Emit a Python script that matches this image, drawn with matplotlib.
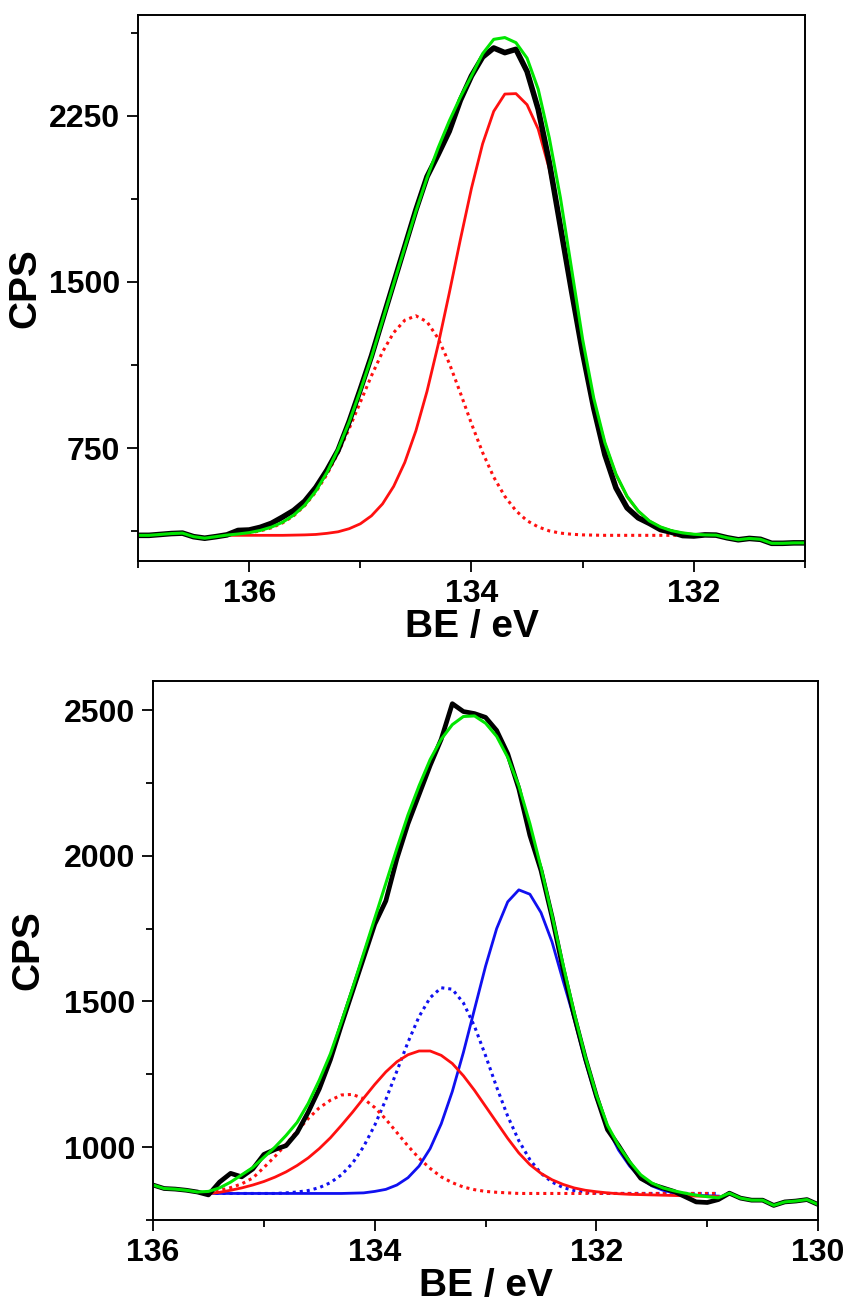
import numpy as np
import matplotlib
matplotlib.use("Agg")
import matplotlib.pyplot as plt
from matplotlib.ticker import MultipleLocator

plt.rcParams['font.family'] = ['Liberation Sans', 'DejaVu Sans']
plt.rcParams['font.weight'] = 'bold'

# ---- top panel (BE 137 -> 131) ----
be_top = [137.0, 136.9, 136.8, 136.7, 136.6, 136.5, 136.4, 136.3, 136.2, 136.1,
          136.0, 135.9, 135.8, 135.7, 135.6, 135.5, 135.4, 135.3, 135.2, 135.1,
          135.0, 134.9, 134.8, 134.7, 134.6, 134.5, 134.4, 134.3, 134.2, 134.1,
          134.0, 133.9, 133.8, 133.7, 133.6, 133.5, 133.4, 133.3, 133.2, 133.1,
          133.0, 132.9, 132.8, 132.7, 132.6, 132.5, 132.4, 132.3, 132.2, 132.1,
          132.0, 131.9, 131.8, 131.7, 131.6, 131.5, 131.4, 131.3, 131.2, 131.1,
          131.0]
data_top = [356, 356, 360, 364, 366, 350, 343, 350, 358, 378,
            380, 392, 410, 438, 468, 510, 572, 650, 740, 870,
            1015, 1165, 1330, 1495, 1660, 1825, 1975, 2075, 2180, 2320,
            2430, 2515, 2556, 2535, 2550, 2450, 2280, 2040, 1750, 1460,
            1180, 930, 720, 570, 480, 435, 410, 382, 370, 355,
            353, 358, 357, 345, 336, 342, 338, 320, 320, 322,
            322]
env_top = [356, 356, 360, 364, 366, 350, 343, 350, 357, 362,
           368, 378, 393, 415, 447, 492, 556, 640, 745, 868,
           1009, 1160, 1326, 1492, 1656, 1819, 1970, 2105, 2226, 2334,
           2430, 2530, 2595, 2603, 2580, 2510, 2370, 2150, 1880, 1560,
           1240, 975, 775, 632, 532, 466, 421, 394, 377, 367,
           361, 358, 357, 345, 336, 342, 338, 320, 320, 322,
           322]
# fitted components, BE 136.2 -> 131.9
be_comp_top = [136.2, 136.1, 136.0, 135.9, 135.8, 135.7, 135.6, 135.5, 135.4, 135.3,
               135.2, 135.1, 135.0, 134.9, 134.8, 134.7, 134.6, 134.5, 134.4, 134.3,
               134.2, 134.1, 134.0, 133.9, 133.8, 133.7, 133.6, 133.5, 133.4, 133.3,
               133.2, 133.1, 133.0, 132.9, 132.8, 132.7, 132.6, 132.5, 132.4, 132.3,
               132.2, 132.1, 132.0, 131.9]
red_top = [356, 356, 356, 356, 356, 356, 357, 358, 360, 365,
           372, 386, 408, 444, 498, 577, 685, 828, 1006, 1216,
           1449, 1691, 1923, 2123, 2270, 2348, 2350, 2300, 2190, 2010,
           1760, 1480, 1200, 960, 770, 630, 530, 465, 420, 393,
           376, 366, 360, 357]
red_dot_top = [359, 362, 367, 376, 390, 412, 444, 490, 552, 631,
               728, 838, 957, 1076, 1184, 1271, 1327, 1347, 1320, 1245,
               1133, 999, 860, 730, 619, 532, 467, 422, 394, 376,
               366, 361, 358, 357, 356, 356, 356, 356, 356, 356,
               356, 356, 356, 356]

# ---- bottom panel (BE 136 -> 130) ----
be_bot = [136.0, 135.9, 135.8, 135.7, 135.6, 135.5, 135.4, 135.3, 135.2, 135.1,
          135.0, 134.9, 134.8, 134.7, 134.6, 134.5, 134.4, 134.3, 134.2, 134.1,
          134.0, 133.9, 133.8, 133.7, 133.6, 133.5, 133.4, 133.3, 133.2, 133.1,
          133.0, 132.9, 132.8, 132.7, 132.6, 132.5, 132.4, 132.3, 132.2, 132.1,
          132.0, 131.9, 131.8, 131.7, 131.6, 131.5, 131.4, 131.3, 131.2, 131.1,
          131.0, 130.9, 130.8, 130.7, 130.6, 130.5, 130.4, 130.3, 130.2, 130.1,
          130.0]
data_bot = [870, 858, 856, 852, 846, 836, 880, 910, 898, 925,
            975, 992, 1005, 1050, 1120, 1200, 1300, 1420, 1535, 1650,
            1765, 1845, 1990, 2110, 2210, 2310, 2400, 2522, 2495, 2488,
            2475, 2430, 2350, 2230, 2070, 1950, 1790, 1610, 1450, 1305,
            1175, 1060, 1005, 945, 893, 872, 860, 848, 830, 812,
            810, 820, 842, 825, 818, 818, 800, 812, 815, 820,
            803]
env_bot = [870, 858, 856, 852, 846, 848, 860, 880, 905, 930,
           965, 1000, 1040, 1085, 1150, 1230, 1320, 1430, 1545, 1665,
           1785, 1905, 2025, 2140, 2240, 2330, 2400, 2450, 2478, 2480,
           2455, 2410, 2338, 2240, 2110, 1960, 1795, 1625, 1460, 1310,
           1180, 1075, 1005, 950, 905, 877, 860, 850, 842, 835,
           830, 826, 842, 825, 818, 818, 800, 812, 815, 820,
           803]
be_comp_bot = [135.5, 135.4, 135.3, 135.2, 135.1, 135.0, 134.9, 134.8, 134.7, 134.6,
               134.5, 134.4, 134.3, 134.2, 134.1, 134.0, 133.9, 133.8, 133.7, 133.6,
               133.5, 133.4, 133.3, 133.2, 133.1, 133.0, 132.9, 132.8, 132.7, 132.6,
               132.5, 132.4, 132.3, 132.2, 132.1, 132.0, 131.9, 131.8, 131.7, 131.6,
               131.5, 131.4, 131.3, 131.2, 131.1, 131.0, 130.9]
red_bot = [840, 845, 852, 860, 870, 882, 897, 915, 937, 963,
           995, 1032, 1075, 1120, 1168, 1215, 1258, 1293, 1317, 1330,
           1330, 1315, 1287, 1245, 1195, 1140, 1085, 1030, 980, 940,
           910, 888, 872, 860, 852, 847, 843, 840, 838, 837,
           836, 835, 834, 833, 832, 831, 830]
red_dot_bot = [847, 852, 861, 874, 894, 930, 968, 1010, 1055, 1098,
               1135, 1161, 1179, 1181, 1166, 1136, 1096, 1050, 1004, 962,
               927, 898, 878, 863, 854, 848, 845, 843, 841, 841,
               841, 841, 841, 841, 841, 841, 841, 841, 841, 841,
               841, 841, 841, 841, 841, 841, 841]
blue_bot = [841, 841, 841, 841, 841, 841, 841, 841, 841, 841,
            841, 841, 841, 842, 843, 848, 855, 870, 895, 935,
            995, 1080, 1191, 1325, 1473, 1621, 1750, 1842, 1883, 1868,
            1805, 1704, 1570, 1440, 1295, 1168, 1065, 990, 935, 893,
            867, 852, 843, 838, 835, 833, 832]
blue_dot_bot = [841, 841, 841, 841, 841, 841, 841, 843, 846, 851,
                861, 878, 905, 945, 1002, 1075, 1163, 1261, 1360, 1448,
                1513, 1547, 1542, 1495, 1415, 1314, 1206, 1106, 1022, 957,
                910, 880, 861, 851, 845, 842, 841, 841, 841, 841,
                841, 841, 841, 841, 841, 841, 841]

GREEN = '#00e600'
RED = '#ff1010'
BLUE = '#1010f0'
DOTS = (0, (1, 1.3))

fig = plt.figure(figsize=(8.46, 13.02), dpi=100)
ax1 = fig.add_axes([0.1631, 0.5691, 0.7884, 0.4194])
ax2 = fig.add_axes([0.1809, 0.0630, 0.7861, 0.4140])

# top
ax1.plot(be_comp_top, red_dot_top, color=RED, lw=2.2, ls=DOTS)
ax1.plot(be_comp_top, red_top, color=RED, lw=2.0)
ax1.plot(be_top, data_top, color='black', lw=4.0, solid_joinstyle='round')
ax1.plot(be_top, env_top, color=GREEN, lw=2.2)
ax1.set_xlim(137, 131)
ax1.set_ylim(240, 2705)
ax1.xaxis.set_major_locator(MultipleLocator(2))
ax1.xaxis.set_minor_locator(MultipleLocator(1))
ax1.yaxis.set_major_locator(MultipleLocator(750))
ax1.yaxis.set_minor_locator(MultipleLocator(375))

# bottom
ax2.plot(be_comp_bot, blue_dot_bot, color=BLUE, lw=2.2, ls=DOTS)
ax2.plot(be_comp_bot, red_dot_bot, color=RED, lw=2.2, ls=DOTS)
ax2.plot(be_comp_bot, blue_bot, color=BLUE, lw=2.0)
ax2.plot(be_comp_bot, red_bot, color=RED, lw=2.0)
ax2.plot(be_bot, data_bot, color='black', lw=3.4, solid_joinstyle='round')
ax2.plot(be_bot, env_bot, color=GREEN, lw=2.2)
ax2.set_xlim(136, 130)
ax2.set_ylim(750, 2600)
ax2.xaxis.set_major_locator(MultipleLocator(2))
ax2.xaxis.set_minor_locator(MultipleLocator(1))
ax2.yaxis.set_major_locator(MultipleLocator(500))
ax2.yaxis.set_minor_locator(MultipleLocator(250))

for ax in (ax1, ax2):
    for s in ax.spines.values():
        s.set_linewidth(1.4)
    ax.tick_params(which='major', direction='out', length=8, width=1.3,
                   labelsize=23, pad=5, top=False, right=False)
    ax.tick_params(which='minor', direction='out', length=5, width=1.3,
                   top=False, right=False)
    for lab in ax.get_xticklabels() + ax.get_yticklabels():
        lab.set_fontweight('bold')
    ax.set_xlabel('BE / eV', fontsize=28, fontweight='bold', labelpad=0)
    ax.set_ylabel('CPS', fontsize=28, fontweight='bold')

ax1.yaxis.set_label_coords(-0.142, 0.5)
ax2.yaxis.set_label_coords(-0.161, 0.5)

fig.savefig('out.png', dpi=100, facecolor='white')
